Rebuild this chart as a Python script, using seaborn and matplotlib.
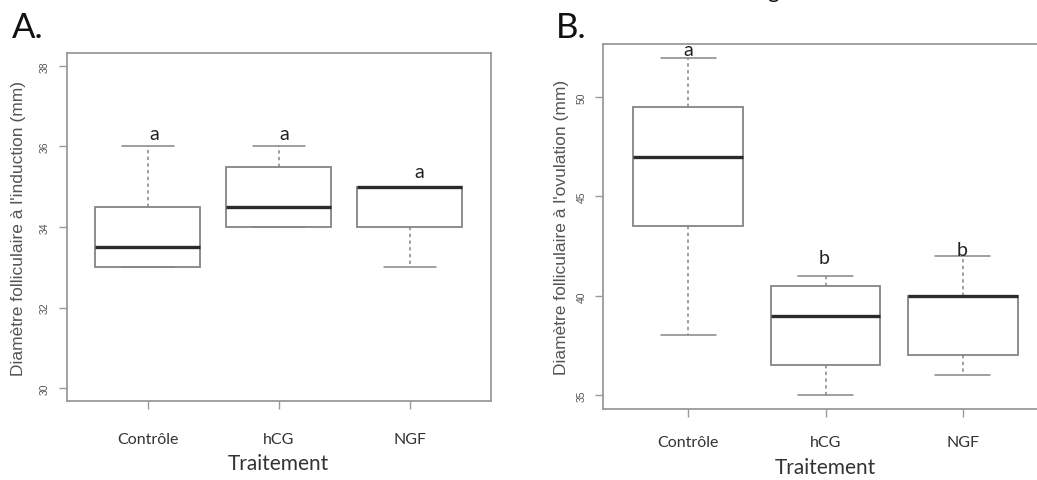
import numpy as np
import pandas as pd

import matplotlib
matplotlib.use('Agg')
import matplotlib.pyplot as plt
import seaborn as sns

DPI = 100
BOX_GREY = '#858585'
FRAME_GREY = '#9a9a9a'
TEXT_GREY = '#555555'

treatments = ['Contrôle', 'hCG', 'NGF']

# five-number summaries: min, Q1, median, Q3, max
induction_ctrl = [33.0, 33.0, 33.5, 34.5, 36.0]
induction_hcg = [34.0, 34.0, 34.5, 35.5, 36.0]
induction_ngf = [33.0, 34.0, 35.0, 35.0, 35.0]

ovulation_ctrl = [38.0, 43.5, 47.0, 49.5, 52.0]
ovulation_hcg = [35.0, 36.5, 39.0, 40.5, 41.0]
ovulation_ngf = [36.0, 37.0, 40.0, 40.0, 42.0]

letters_induction = ['a', 'a', 'a']
letters_ovulation = ['a', 'b', 'b']

# label offsets above the upper whisker (pixels), as placed in the original
OFFSETS_A = [(6, 13), (5, 13), (9, 15)]
OFFSETS_B = [(0, 8), (-1, 18), (-1, 7)]


def draw_panel(ax, values, letters, offsets, ylim, yticks, ylabel, ylab_x, xlab_y, xpad):
    df = pd.DataFrame({
        'Traitement': np.repeat(treatments, [len(v) for v in values]),
        'value': np.concatenate(values),
    })
    sns.boxplot(
        data=df, x='Traitement', y='value', order=treatments, ax=ax,
        width=0.8, whis=1.5, showfliers=False,
        color='white', linecolor=BOX_GREY, linewidth=1.3,
        medianprops={'color': '#2b2b2b', 'linewidth': 2.4},
        whiskerprops={'linestyle': (0, (2.2, 2.2)), 'linewidth': 1.1},
        capprops={'linewidth': 1.1},
    )
    ax.set_xlim(-0.62, 2.62)
    ax.set_ylim(*ylim)
    ax.set_yticks(yticks)
    ax.set_yticklabels([str(t) for t in yticks])

    for spine in ax.spines.values():
        spine.set_visible(True)
        spine.set_color(FRAME_GREY)
        spine.set_linewidth(1.3)

    ax.tick_params(axis='both', direction='out', length=6, width=1.0, color=FRAME_GREY)
    ax.tick_params(axis='x', labelsize=11.5, pad=xpad, labelcolor='#333333')
    ax.tick_params(axis='y', labelsize=7.5, pad=6, labelcolor=TEXT_GREY, labelrotation=90)
    for lab in ax.get_yticklabels():
        lab.set_family(['Liberation Sans', 'DejaVu Sans'])
        lab.set_verticalalignment('center')

    ax.set_ylabel(ylabel, fontsize=12.5, color=TEXT_GREY, family=['Liberation Sans', 'DejaVu Sans'])
    ax.yaxis.set_label_coords(ylab_x, 0.5)
    ax.set_xlabel('Traitement', fontsize=15, color='#333333')
    ax.xaxis.set_label_coords(0.5, xlab_y)

    for i, (vals, letter, (dx, dy)) in enumerate(zip(values, letters, offsets)):
        ax.annotate(letter, xy=(i, max(vals)), xytext=(dx, dy), textcoords='offset pixels',
                    ha='center', va='center', fontsize=14, color='#222222',
                    annotation_clip=False)


sns.set_style('ticks')
plt.rcParams['font.family'] = ['Lato', 'DejaVu Sans']

fig = plt.figure(figsize=(1037 / DPI, 481 / DPI), dpi=DPI)
ax_a = fig.add_axes([0.0643, 0.1642, 0.4092, 0.7235])
ax_b = fig.add_axes([0.5815, 0.1486, 0.4291, 0.7578])

draw_panel(ax_a, [induction_ctrl, induction_hcg, induction_ngf], letters_induction, OFFSETS_A,
           (29.68, 38.32), [30, 32, 34, 36, 38],
           "Diamètre folliculaire à l'induction (mm)", -0.096, -0.15, 16)
draw_panel(ax_b, [ovulation_ctrl, ovulation_hcg, ovulation_ngf], letters_ovulation, OFFSETS_B,
           (34.32, 52.68), [35, 40, 45, 50],
           "Diamètre folliculaire à l'ovulation (mm)", -0.076, -0.133, 13)

fig.text(0.0116, 1 - 38 / 481, 'A.', fontsize=25, color='#111111', va='baseline', ha='left')
fig.text(0.536, 1 - 38 / 481, 'B.', fontsize=25, color='#111111', va='baseline', ha='left')
# tail of a caption cut off by the top edge, as in the source figure
fig.text(0.7395, 1.004, 'g', fontsize=16, color='#111111', va='baseline', ha='left')

fig.savefig('out.png', dpi=DPI)
